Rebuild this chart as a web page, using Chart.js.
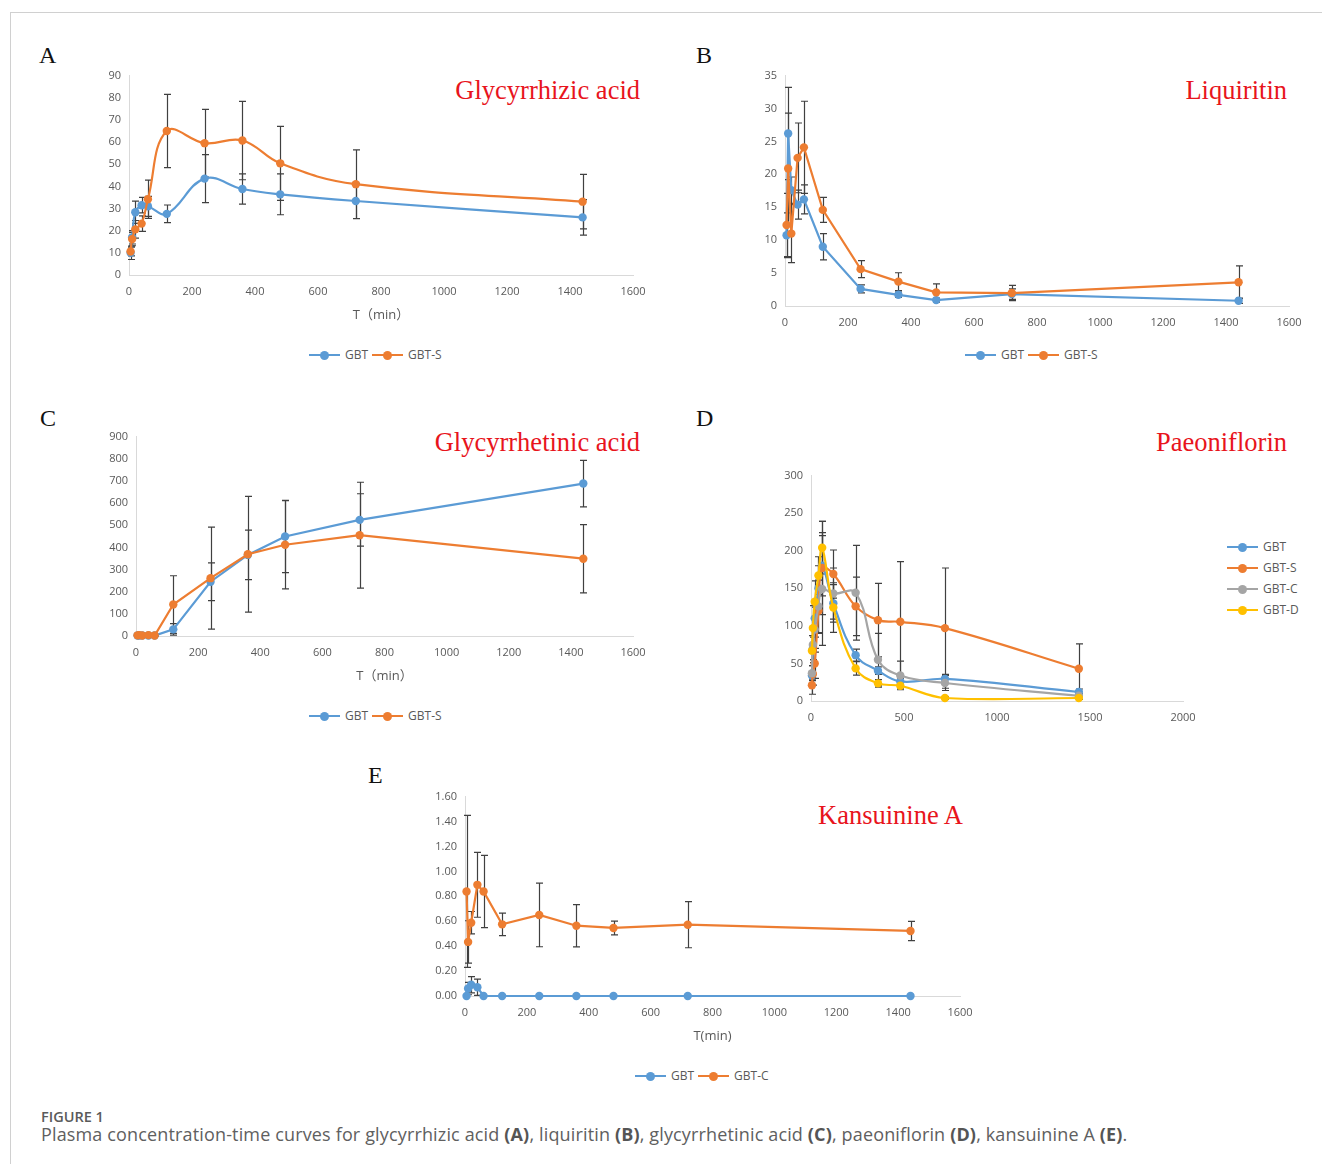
<!DOCTYPE html>
<html lang="en">
<head>
<meta charset="utf-8">
<title>Figure 1 – Plasma concentration-time curves</title>
<script src="https://cdn.jsdelivr.net/npm/chart.js@4.4.1/dist/chart.umd.min.js"></script>
<style>
  html, body { margin:0; padding:0; background:#fff; }
  body { position:relative; width:1322px; height:1164px; overflow:hidden; font-family:'Open Sans','Noto Sans',sans-serif; }
  .frame { position:absolute; left:10px; top:12px; width:1330px; height:1200px; border-top:1px solid #d0d0d0; border-left:1px solid #d0d0d0; }
  .tag { position:absolute; font:24px/24px 'Liberation Serif','Times New Roman',serif; color:#111; }
  .name { position:absolute; font:26.5px/26px 'Liberation Serif','Times New Roman',serif; color:#e8141c; white-space:nowrap; }
  .plot { position:absolute; }
  .legend { position:absolute; display:flex; font-size:12px; color:#595959; line-height:14px; }
  .legend.col { flex-direction:column; row-gap:7px; }
  .item { display:flex; align-items:center; margin-right:4px; }
  .key { position:relative; width:31px; height:10px; margin-right:5px; }
  .key::before { content:''; position:absolute; left:0; right:0; top:4px; height:2px; background:var(--c); }
  .key::after { content:''; position:absolute; left:10.5px; top:0.5px; width:9px; height:9px; border-radius:50%; background:var(--c); }
  .fig { position:absolute; left:41px; top:1107px; font-size:14.5px; font-weight:600; color:#5a5a5a; }
  .cap { position:absolute; left:41px; top:1122px; font-size:18px; letter-spacing:0.15px; color:#606060; white-space:nowrap; }
  .cap b { font-weight:700; color:#555; }
</style>
</head>
<body>
<div class="frame"></div>

<div class="tag" style="left:39px;top:43px">A</div>
<div class="tag" style="left:696px;top:43px">B</div>
<div class="tag" style="left:40px;top:406px">C</div>
<div class="tag" style="left:696px;top:406px">D</div>
<div class="tag" style="left:368px;top:763px">E</div>

<div class="name" style="right:682px;top:77px">Glycyrrhizic acid</div>
<div class="name" style="right:35px;top:77px">Liquiritin</div>
<div class="name" style="right:682px;top:429px">Glycyrrhetinic acid</div>
<div class="name" style="right:35px;top:429px">Paeoniflorin</div>
<div class="name" style="right:359px;top:802px">Kansuinine A</div>

<div class="fig">FIGURE 1</div>
<div class="cap">Plasma concentration-time curves for glycyrrhizic acid <b>(A)</b>, liquiritin <b>(B)</b>, glycyrrhetinic acid <b>(C)</b>, paeoniflorin <b>(D)</b>, kansuinine A <b>(E)</b>.</div>

<script>
// Sampling times (min)
const minutes = [5, 10, 20, 40, 60, 120, 240, 360, 480, 720, 1440];

// A – glycyrrhizic acid (mean, SD)
const glyAcidGBT     = [10, 17, 28.3, 31.5, 31, 27.6, 43.5, 38.8, 36.4, 33.4, 26];
const glyAcidGBTsd   = [3, 3, 5, 3.5, 4.5, 4, 10.8, 6.8, 9.2, 8, 8];
const glyAcidGBTS    = [10.6, 16.2, 20.6, 23.2, 34.2, 65, 59.5, 60.7, 50.4, 41, 33.1];
const glyAcidGBTSsd  = [2, 3, 4, 3.5, 8.6, 16.5, 15.3, 17.7, 16.7, 15.5, 12.3];

// B – liquiritin
const liqGBT     = [10.75, 26.2, 17.6, 15.4, 16.2, 9.0, 2.6, 1.7, 0.9, 1.8, 0.8];
const liqGBTsd   = [3.4, 7, 2, 2.2, 2.2, 2, 0.6, 0.4, 0.3, 0.8, 0.4];
const liqGBTS    = [12.3, 20.9, 11.0, 22.5, 24.1, 14.6, 5.6, 3.7, 2.07, 1.97, 3.6];
const liqGBTSsd  = [4.8, 8.4, 4.4, 5.3, 7, 1.9, 1.3, 1.35, 1.3, 1.15, 2.5];

// C – glycyrrhetinic acid
const gaGBT     = [2, 2, 2, 2, 2, 30, 245, 366, 449, 524, 688];
const gaGBTsd   = [1, 1, 1, 1, 1, 26, 85, 112, 163, 118, 105];
const gaGBTS    = [3, 4, 2, 4, 2, 142, 261, 369, 412, 455, 349];
const gaGBTSsd  = [1, 1, 1, 1, 1, 130, 230, 261, 199, 239, 154];

// D – paeoniflorin
const paeGBT     = [34, 70, 110, 150, 180, 130, 61, 40.3, 26, 29.5, 12];
const paeGBTsd   = [5, 15, 25, 30, 40, 25, 8, 5, 4, 6, 4];
const paeGBTS    = [21, 36, 50, 120, 177, 169, 126, 107.6, 105.4, 97, 43];
const paeGBTSsd  = [12, 15, 20, 30, 62, 32, 39, 49, 80, 80, 33];
const paeGBTC    = [37, 75, 95, 126, 149, 143, 144, 55, 34, 24, 7];
const paeGBTCsd  = [10, 20, 30, 35, 75, 34, 63, 35, 19, 10, 3];
const paeGBTD    = [67, 97, 132, 167, 204, 124.4, 43.4, 23.5, 20.3, 4, 4];
const paeGBTDsd  = [20, 30, 28, 25, 35, 33, 9, 5, 4, 2, 2];

// E – kansuinine A
const kanGBT     = [0, 0.06, 0.09, 0.07, 0, 0, 0, 0, 0, 0, 0];
const kanGBTsd   = [0, 0.05, 0.065, 0.065, 0, 0, 0, 0, 0, 0, 0];
const kanGBTC    = [0.839, 0.434, 0.588, 0.892, 0.839, 0.575, 0.65, 0.564, 0.546, 0.572, 0.522];
const kanGBTCsd  = [0.61, 0.17, 0.09, 0.26, 0.29, 0.09, 0.255, 0.17, 0.055, 0.185, 0.077];

const palette = ['#5b9bd5', '#ed7d31', '#a5a5a5', '#ffc000'];

const panels = [
  { box:[129, 75, 633, 275], xMax:1600, xStep:200, yMax:90, yStep:10, yDec:0, xTitle:'T（min）', tension:0.4,
    series:[['GBT', glyAcidGBT, glyAcidGBTsd], ['GBT-S', glyAcidGBTS, glyAcidGBTSsd]],
    legend:{left:309, top:348, col:false} },
  { box:[785, 75, 1289, 306], xMax:1600, xStep:200, yMax:35, yStep:5, yDec:0, xTitle:null, tension:0,
    series:[['GBT', liqGBT, liqGBTsd], ['GBT-S', liqGBTS, liqGBTSsd]],
    legend:{left:965, top:348, col:false} },
  { box:[136, 436, 633, 636], xMax:1600, xStep:200, yMax:900, yStep:100, yDec:0, xTitle:'T（min）', tension:0,
    series:[['GBT', gaGBT, gaGBTsd], ['GBT-S', gaGBTS, gaGBTSsd]],
    legend:{left:309, top:709, col:false} },
  { box:[811, 475, 1183, 701], xMax:2000, xStep:500, yMax:300, yStep:50, yDec:0, xTitle:null, tension:0.4,
    series:[['GBT', paeGBT, paeGBTsd], ['GBT-S', paeGBTS, paeGBTSsd], ['GBT-C', paeGBTC, paeGBTCsd], ['GBT-D', paeGBTD, paeGBTDsd]],
    legend:{left:1227, top:540, col:true} },
  { box:[465, 796, 960, 996], xMax:1600, xStep:200, yMax:1.6, yStep:0.2, yDec:2, xTitle:'T(min)', tension:0,
    series:[['GBT', kanGBT, kanGBTsd], ['GBT-C', kanGBTC, kanGBTCsd]],
    legend:{left:635, top:1069, col:false} }
];

// Mean ± SD whiskers, drawn under the series lines
const errorBars = {
  id: 'errorBars',
  beforeDatasetsDraw(chart) {
    const { ctx, chartArea, scales: { x, y } } = chart;
    ctx.save();
    ctx.strokeStyle = '#404040';
    ctx.lineWidth = 1.2;
    chart.data.datasets.forEach(ds => {
      ds.data.forEach((p, j) => {
        const s = ds.sd[j];
        if (!s) return;
        const px = Math.round(x.getPixelForValue(p.x)) + 0.5;
        const top = Math.max(chartArea.top, y.getPixelForValue(p.y + s));
        const bot = Math.min(chartArea.bottom, y.getPixelForValue(p.y - s));
        ctx.beginPath();
        ctx.moveTo(px, top); ctx.lineTo(px, bot);
        ctx.moveTo(px - 3.5, top); ctx.lineTo(px + 3.5, top);
        ctx.moveTo(px - 3.5, bot); ctx.lineTo(px + 3.5, bot);
        ctx.stroke();
      });
    });
    ctx.restore();
  }
};

// canvas top sits this far above the plot area (layout padding plus the
// half-label room Chart.js keeps for the top y tick)
const TOP_ROOM = 14, PAD_R = 30, Y_W = 60;
const tickFont = { family: "'Open Sans','Noto Sans CJK SC',sans-serif", size: 11 };

panels.forEach(p => {
  const [L, T, R, B] = p.box;
  const xh = p.xTitle ? 48 : 30;
  const left = L - Y_W, top = T - TOP_ROOM, w = R + PAD_R - left, h = B + xh - top;
  const wrap = document.createElement('div');
  wrap.className = 'plot';
  wrap.style.cssText = `left:${left}px;top:${top}px;width:${w}px;height:${h}px`;
  const cv = document.createElement('canvas');
  cv.width = w; cv.height = h;
  cv.style.width = w + 'px'; cv.style.height = h + 'px';
  wrap.appendChild(cv);
  document.body.appendChild(wrap);

  const n = p.series.length;
  const datasets = p.series.map(([label, ys, sd], i) => ({
    label,
    data: minutes.map((t, k) => ({ x: t, y: ys[k] })),
    sd,
    order: n - i,
    borderColor: palette[i],
    backgroundColor: palette[i],
    pointBackgroundColor: palette[i],
    borderWidth: 2.2,
    pointRadius: 4.2,
    pointHoverRadius: 4.2,
    pointBorderWidth: 0,
    tension: p.tension,
    clip: false,
    fill: false
  }));

  new Chart(cv, {
    type: 'line',
    data: { datasets },
    options: {
      responsive: false,
      animation: false,
      events: [],
      layout: { padding: { top: 10, right: PAD_R, left: 0, bottom: 0 } },
      plugins: { legend: { display: false }, tooltip: { enabled: false }, title: { display: false } },
      scales: {
        x: {
          type: 'linear', min: 0, max: p.xMax,
          ticks: { stepSize: p.xStep, padding: 10, color: '#595959', font: tickFont, maxRotation: 0, autoSkip: false,
                   callback: v => String(v) },
          grid: { display: false, drawTicks: false },
          border: { display: true, color: '#d9d9d9', width: 1 },
          title: p.xTitle ? { display: true, text: p.xTitle, color: '#595959',
                              font: { family: "'Open Sans','Noto Sans CJK SC',sans-serif", size: 13 }, padding: 0 }
                          : { display: false },
          afterFit: s => { s.height = xh; }
        },
        y: {
          type: 'linear', min: 0, max: p.yMax,
          ticks: { stepSize: p.yStep, padding: 8, color: '#595959', font: tickFont,
                   callback: v => Number(v).toFixed(p.yDec) },
          grid: { display: false, drawTicks: false },
          border: { display: true, color: '#d9d9d9', width: 1 },
          afterFit: s => { s.width = Y_W; }
        }
      }
    },
    plugins: [errorBars]
  });

  // legend
  const lg = document.createElement('div');
  lg.className = 'legend' + (p.legend.col ? ' col' : '');
  lg.style.left = p.legend.left + 'px';
  lg.style.top = p.legend.top + 'px';
  p.series.forEach(([label], i) => {
    const it = document.createElement('div');
    it.className = 'item';
    const k = document.createElement('span');
    k.className = 'key';
    k.style.setProperty('--c', palette[i]);
    const t = document.createElement('span');
    t.textContent = label;
    it.appendChild(k); it.appendChild(t);
    lg.appendChild(it);
  });
  document.body.appendChild(lg);
});
</script>
</body>
</html>
